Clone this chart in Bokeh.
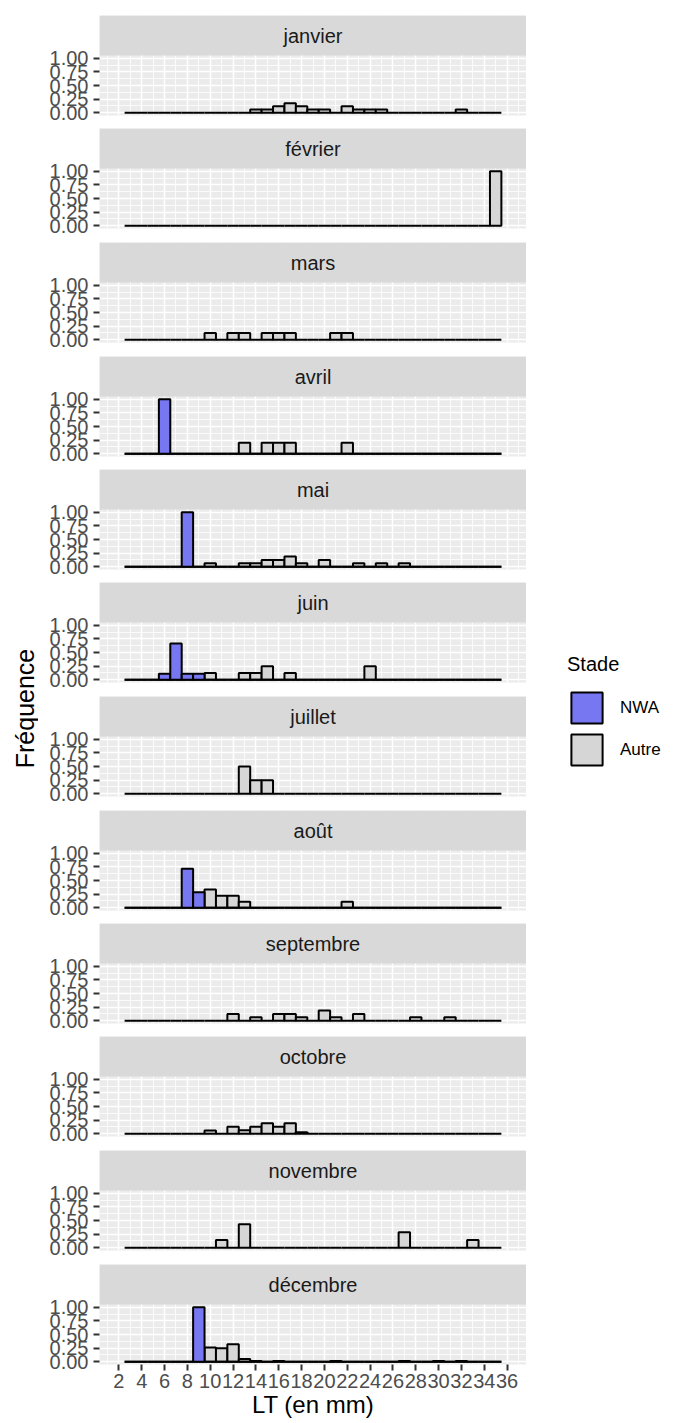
import math
from bokeh.plotting import figure
from bokeh.models import (Range1d, FixedTicker, NumeralTickFormatter, ColumnDataSource,
                          Legend, LegendItem)
from bokeh.layouts import row, column
from bokeh.core.properties import value
from bokeh.embed import file_html
from bokeh.resources import INLINE

# ---------------- data ----------------
mois = ["janvier", "février", "mars", "avril", "mai", "juin", "juillet",
        "août", "septembre", "octobre", "novembre", "décembre"]
stades = ["NWA", "Autre"]
lt_classes = list(range(3, 36))          # centres des classes de LT (mm), largeur 1 mm
x_breaks = list(range(2, 37, 2))
y_breaks = [0.0, 0.25, 0.5, 0.75, 1.0]

# Fréquence par classe de LT  {LT: fréquence}
autre_janvier = {14: 0.059, 15: 0.059, 16: 0.118, 17: 0.176, 18: 0.118, 19: 0.059,
                 20: 0.059, 22: 0.118, 23: 0.059, 24: 0.059, 25: 0.059, 32: 0.059}
autre_fevrier = {35: 1.0}
autre_mars = {10: 0.125, 12: 0.125, 13: 0.125, 15: 0.125, 16: 0.125, 17: 0.125,
              21: 0.125, 22: 0.125}
autre_avril = {13: 0.2, 15: 0.2, 16: 0.2, 17: 0.2, 22: 0.2}
autre_mai = {10: 0.0625, 13: 0.0625, 14: 0.0625, 15: 0.125, 16: 0.125, 17: 0.1875,
             18: 0.0625, 20: 0.125, 23: 0.0625, 25: 0.0625, 27: 0.0625}
autre_juin = {10: 0.125, 13: 0.125, 14: 0.125, 15: 0.25, 17: 0.125, 24: 0.25}
autre_juillet = {13: 0.5, 14: 0.25, 15: 0.25}
autre_aout = {10: 0.333, 11: 0.222, 12: 0.222, 13: 0.111, 22: 0.111}
autre_septembre = {12: 0.125, 14: 0.0625, 16: 0.125, 17: 0.125, 18: 0.0625, 20: 0.1875,
                   21: 0.0625, 23: 0.125, 28: 0.0625, 31: 0.0625}
autre_octobre = {10: 0.06, 12: 0.13, 13: 0.065, 14: 0.13, 15: 0.195, 16: 0.13,
                 17: 0.195, 18: 0.03}
autre_novembre = {11: 0.143, 13: 0.429, 27: 0.286, 33: 0.143}
autre_decembre = {10: 0.26, 11: 0.25, 12: 0.32, 13: 0.052, 14: 0.015, 16: 0.013,
                  21: 0.013, 27: 0.013, 30: 0.013, 32: 0.013}

nwa_avril = {6: 1.0}
nwa_mai = {8: 1.0}
nwa_juin = {6: 0.111, 7: 0.667, 8: 0.111, 9: 0.111}
nwa_aout = {8: 0.714, 9: 0.286}
nwa_decembre = {9: 1.0}

autre_par_mois = [autre_janvier, autre_fevrier, autre_mars, autre_avril, autre_mai,
                  autre_juin, autre_juillet, autre_aout, autre_septembre,
                  autre_octobre, autre_novembre, autre_decembre]
nwa_par_mois = [{}, {}, {}, nwa_avril, nwa_mai, nwa_juin, {}, nwa_aout, {}, {}, {},
                nwa_decembre]

# ---------------- style ----------------
FONT = "Liberation Sans"
NWA_COLOR = "#7777F2"
AUTRE_COLOR = "#D6D6D6"
STRIP_COLOR = "#D9D9D9"
PANEL_BG = "#EBEBEB"
BAR_LW = 2.0

X_START, X_END = 0.3, 37.7
Y_START, Y_PANEL_END = -0.05, 1.05
STRIP_PX, PANEL_PX = 40, 60
Y_END = Y_PANEL_END + (Y_PANEL_END - Y_START) * STRIP_PX / PANEL_PX
FRAME_W = 427
LEFT_W = 38
LEFT_BORDER = 61
TOP0 = 15
PERIOD = 113.5

strip_tops = [round(TOP0 + i * PERIOD) for i in range(len(mois))]

figs = []
for i, m in enumerate(mois):
    last = (i == len(mois) - 1)
    top_border = TOP0 if i == 0 else 0
    bottom_border = 0 if last else strip_tops[i + 1] - strip_tops[i] - (STRIP_PX + PANEL_PX)
    p = figure(frame_width=FRAME_W, frame_height=STRIP_PX + PANEL_PX,
               x_range=Range1d(X_START, X_END), y_range=Range1d(Y_START, Y_END),
               output_backend="svg", toolbar_location=None,
               x_axis_location="below" if last else None,
               min_border_left=LEFT_BORDER, min_border_right=0,
               min_border_top=top_border, min_border_bottom=bottom_border)
    p.background_fill_color = PANEL_BG
    p.border_fill_color = "white"
    p.outline_line_color = None

    # grids
    x_minor = [b - 1 for b in x_breaks] + [x_breaks[-1] + 1]
    y_minor = [(a + b) / 2 for a, b in zip(y_breaks[:-1], y_breaks[1:])]
    p.xgrid.ticker = FixedTicker(ticks=x_breaks, minor_ticks=x_minor)
    p.yaxis.ticker = FixedTicker(ticks=y_breaks, minor_ticks=y_minor)
    for g in (p.xgrid, p.ygrid):
        g.grid_line_color = "white"
        g.grid_line_width = 1.5
        g.minor_grid_line_color = "white"
        g.minor_grid_line_width = 0.8

    # y axis
    ya = p.yaxis[0]
    ya.formatter = NumeralTickFormatter(format="0.00")
    ya.axis_line_color = None
    ya.major_tick_line_color = "#333333"
    ya.major_tick_line_width = 2
    ya.major_tick_in = 0
    ya.major_tick_out = 6
    ya.minor_tick_line_color = None
    ya.major_label_text_font = FONT
    ya.major_label_text_font_size = "20px"
    ya.major_label_text_color = "#4D4D4D"
    ya.major_label_standoff = 5

    if last:
        xa = p.xaxis[0]
        xa.ticker = FixedTicker(ticks=x_breaks, minor_ticks=x_minor)
        xa.axis_line_color = None
        xa.major_tick_line_color = "#333333"
        xa.major_tick_line_width = 2
        xa.major_tick_in = 0
        xa.major_tick_out = 6
        xa.minor_tick_line_color = None
        xa.major_label_text_font = FONT
        xa.major_label_text_font_size = "20px"
        xa.major_label_text_color = "#4D4D4D"
        xa.major_label_standoff = 3
        xa.axis_label = "LT (en mm)"
        xa.axis_label_text_font = FONT
        xa.axis_label_text_font_size = "24px"
        xa.axis_label_text_font_style = "normal"
        xa.axis_label_text_color = "black"
        xa.axis_label_standoff = 0

    # strip
    p.quad(left=[X_START], right=[X_END], bottom=[Y_PANEL_END], top=[Y_END],
           fill_color=STRIP_COLOR, line_color=None)
    p.text(x=[(X_START + X_END) / 2], y=[(Y_PANEL_END + Y_END) / 2], text=[m],
           text_align="center", text_baseline="middle",
           text_font=value(FONT), text_font_size="20px", text_color="#1A1A1A")

    # histogram bars
    for stade, data, color in (("Autre", autre_par_mois[i], AUTRE_COLOR),
                               ("NWA", nwa_par_mois[i], NWA_COLOR)):
        if stade == "NWA" and not data:
            continue
        freq = [data.get(c, 0.0) for c in lt_classes]
        src = ColumnDataSource(dict(left=[c - 0.5 for c in lt_classes],
                                    right=[c + 0.5 for c in lt_classes],
                                    top=freq, bottom=[0.0] * len(lt_classes)))
        p.quad(left="left", right="right", top="top", bottom="bottom", source=src,
               fill_color=color, line_color="black", line_width=BAR_LW)
    figs.append(p)

panels = column(*figs, spacing=0)

# y label
ylab_h = 800
ylab = figure(width=LEFT_W, height=ylab_h, x_range=Range1d(0, LEFT_W),
              y_range=Range1d(0, ylab_h), min_border=0,
              x_axis_location=None, y_axis_location=None,
              output_backend="svg", toolbar_location=None)
ylab.grid.visible = False
ylab.outline_line_color = None
ylab.background_fill_color = "white"
ylab.text(x=[24], y=[ylab_h - 708], text=["Fréquence"], angle=math.pi / 2,
          text_align="center", text_baseline="middle",
          text_font=value(FONT), text_font_size="25px", text_color="black")

# legend (dummy renderers outside the visible range, used only for the keys)
leg_w, leg_h = 139, 800
lg = figure(width=leg_w, height=leg_h, x_range=Range1d(0, 1), y_range=Range1d(0, 1),
            min_border=0, x_axis_location=None, y_axis_location=None,
            output_backend="svg", toolbar_location=None)
lg.grid.visible = False
lg.outline_line_color = None
r_nwa = lg.quad(left=[5], right=[6], top=[6], bottom=[5], fill_color=NWA_COLOR,
                line_color="black", line_width=BAR_LW)
r_autre = lg.quad(left=[5], right=[6], top=[6], bottom=[5], fill_color=AUTRE_COLOR,
                  line_color="black", line_width=BAR_LW)
legend = Legend(items=[LegendItem(label=stades[0], renderers=[r_nwa]),
                       LegendItem(label=stades[1], renderers=[r_autre])],
                title="Stade", location=(41, leg_h - 769),
                border_line_color=None, background_fill_alpha=0,
                padding=0, margin=0, spacing=3,
                glyph_width=39, glyph_height=39, label_height=39,
                label_standoff=14,
                title_text_font=FONT, title_text_font_size="20px",
                title_text_font_style="normal", title_text_color="black",
                title_standoff=12,
                label_text_font=FONT, label_text_font_size="17px",
                label_text_color="black")
lg.add_layout(legend)

layout = row(ylab, panels, lg, spacing=0)

open("out.html", "w").write(file_html(layout, INLINE))
